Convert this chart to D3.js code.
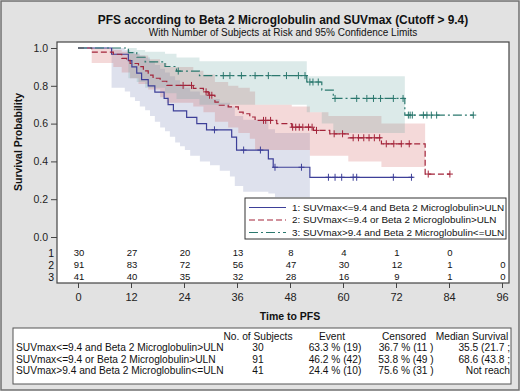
<!DOCTYPE html>
<html>
<head>
<meta charset="utf-8">
<script src="https://cdn.jsdelivr.net/npm/d3@7"></script>
<style>
  body { margin: 0; background: #fff; }
  text { font-family: "Liberation Sans", Arial, sans-serif; fill: #111; }
</style>
</head>
<body>
<div class="km-chart"></div>
<script>
// Group labels
var groupNames = [
  "1: SUVmax<=9.4 and Beta 2 Microglobulin>ULN",
  "2: SUVmax<=9.4 or Beta 2 Microglobulin>ULN",
  "3: SUVmax>9.4 and Beta 2 Microglobulin<=ULN"
];

// Group 1 (Kaplan-Meier steps, months / survival after the drop)
var g1Times = [7.6, 11.4, 12.2, 13.3, 14.4, 15.9, 17.4, 19.5, 20.4, 21.6, 24.6, 26.9, 29.1, 34.8, 35.9, 43.1, 44.2, 52.5];
var g1Surv  = [0.967, 0.933, 0.900, 0.867, 0.833, 0.800, 0.767, 0.733, 0.700, 0.667, 0.633, 0.600, 0.567, 0.528, 0.460, 0.413, 0.369, 0.316];
var g1Cens  = [30.9, 37.5, 41.3, 44.6, 50.6, 56.7, 58.2, 59.7, 62.3, 63.1, 71.4, 75.5];
var g1End   = 75.9;

// Group 2
var g2Times = [3.1, 8.0, 9.9, 11.0, 11.8, 13.7, 14.8, 15.9, 17.0, 18.6, 20.1, 26.1, 28.4, 29.5, 31.0, 31.8, 34.0, 36.3, 37.4, 38.9, 40.1, 45.0, 48.4, 53.3, 57.0, 61.2, 68.7, 78.6];
var g2Surv  = [0.978, 0.967, 0.945, 0.934, 0.918, 0.901, 0.879, 0.857, 0.840, 0.824, 0.802, 0.786, 0.768, 0.750, 0.714, 0.697, 0.688, 0.661, 0.652, 0.635, 0.617, 0.600, 0.581, 0.564, 0.546, 0.525, 0.493, 0.333];
var g2Cens  = [23.8, 25.7, 29.0, 29.8, 30.3, 42.0, 42.5, 43.6, 48.6, 49.3, 50.1, 50.9, 52.2, 53.0, 54.0, 58.0, 59.9, 62.3, 63.5, 64.7, 65.9, 67.1, 68.3, 69.8, 71.5, 73.2, 75.0, 79.3, 84.2];
var g2End   = 84.2;

// Group 3
var g3Times = [11.4, 13.3, 15.2, 19.7, 22.3, 27.5, 51.8, 55.2, 57.8, 74.0];
var g3Surv  = [0.976, 0.951, 0.927, 0.902, 0.878, 0.854, 0.820, 0.777, 0.733, 0.645];
var g3Cens  = [22.7, 32.9, 34.4, 37.0, 40.1, 43.1, 47.2, 49.9, 51.4, 52.5, 53.2, 54.4, 58.2, 63.1, 65.4, 66.9, 68.5, 71.4, 73.6, 74.8, 75.2, 75.7, 78.2, 79.0, 80.0, 81.2, 89.5];
var g3End   = 89.5;

// 95% confidence bands (step start, lower, upper) and end of band
var b1Times = [7.6, 10.6, 11.8, 12.9, 14.0, 15.2, 16.3, 17.4, 18.6, 19.7, 20.8, 22.0, 23.1, 24.2, 25.4, 27.6, 29.9, 32.1, 34.4, 35.5, 37.4, 43.1, 44.6];
var b1Low   = [0.79, 0.77, 0.74, 0.72, 0.69, 0.67, 0.64, 0.61, 0.58, 0.56, 0.53, 0.50, 0.48, 0.46, 0.43, 0.40, 0.38, 0.35, 0.32, 0.27, 0.24, 0.23, 0.21];
var b1High  = [1.00, 0.99, 0.98, 0.97, 0.96, 0.95, 0.93, 0.91, 0.89, 0.87, 0.85, 0.83, 0.81, 0.79, 0.77, 0.75, 0.73, 0.71, 0.69, 0.64, 0.62, 0.57, 0.55];
var b1End   = 52.5;

var b2Times = [3.1, 8.0, 9.9, 11.8, 13.7, 15.9, 18.6, 20.1, 26.1, 28.4, 31.0, 34.0, 36.3, 38.9, 40.1, 45.0, 48.4, 52.5, 56.7, 61.2, 68.7];
var b2Low   = [0.92, 0.90, 0.87, 0.84, 0.81, 0.78, 0.74, 0.71, 0.69, 0.66, 0.61, 0.58, 0.55, 0.52, 0.46, 0.46, 0.46, 0.43, 0.43, 0.40, 0.37];
var b2High  = [1.00, 0.99, 0.98, 0.97, 0.96, 0.94, 0.92, 0.90, 0.88, 0.86, 0.82, 0.80, 0.79, 0.77, 0.70, 0.70, 0.69, 0.66, 0.64, 0.64, 0.60];
var b2End   = 78.6;

var b3Times = [11.4, 13.3, 15.2, 19.7, 22.3, 27.5, 51.8, 55.2, 57.8];
var b3Low   = [0.84, 0.82, 0.79, 0.76, 0.73, 0.70, 0.66, 0.60, 0.55];
var b3High  = [1.00, 0.99, 0.98, 0.97, 0.95, 0.93, 0.85, 0.85, 0.85];
var b3End   = 74.0;

// Number at risk
var riskTimes = [0, 12, 24, 36, 48, 60, 72, 84, 96];
var risk1 = [30, 27, 20, 13, 8, 4, 1, 0, null];
var risk2 = [91, 83, 72, 56, 47, 30, 12, 1, 0];
var risk3 = [41, 40, 35, 32, 28, 16, 9, 1, 0];

// Summary table
var tableHeaders = ["No. of Subjects", "Event", "Censored", "Median Survival"];
var tableLabels = ["SUVmax<=9.4 and Beta 2 Microglobulin>ULN", "SUVmax<=9.4 or Beta 2 Microglobulin>ULN", "SUVmax>9.4 and Beta 2 Microglobulin<=ULN"];
var tableN = ["30", "91", "41"];
var tableEvent = ["63.3 % (19)", "46.2 % (42)", "24.4 % (10)"];
var tableCens = ["36.7 % (11 )", "53.8 % (49 )", "75.6 % (31 )"];
var tableMedian = ["35.5 (21.7 ;", "68.6 (43.8 ;", "Not reach"];

var width = 520, height = 391;
var lineColors = ["#3d3f98", "#a3243a", "#2b786e"];
var bandColors = ["#6f7eb3", "#d05b5b", "#66a5a0"];
var dashes = [null, "6,3", "9,3,2,3"];

var svg = d3.select(".km-chart").append("svg")
            .attr("width", width)
            .attr("height", height);

// Outer background
svg.append("rect")
   .attr("x", 1).attr("y", 1)
   .attr("width", width - 2).attr("height", height - 2)
   .style("fill", "#e2e2e2")
   .style("stroke", "#707070")
   .style("stroke-width", 1.5);

// Titles
svg.append("text")
   .attr("x", 283).attr("y", 24)
   .style("text-anchor", "middle")
   .style("font-weight", "bold")
   .style("font-size", "11.9px")
   .text("PFS according to Beta 2 Microglobulin and SUVmax (Cutoff > 9.4)");

svg.append("text")
   .attr("x", 283).attr("y", 36)
   .style("text-anchor", "middle")
   .style("font-size", "10px")
   .text("With Number of Subjects at Risk and 95% Confidence Limits");

// Plot frame
var frame = {left: 57, top: 42, right: 509, bottom: 283};
svg.append("rect")
   .attr("x", frame.left).attr("y", frame.top)
   .attr("width", frame.right - frame.left)
   .attr("height", frame.bottom - frame.top)
   .style("fill", "#fff");

// Scales
var xScale = d3.scaleLinear().domain([0, 96]).range([78, 502]);
var yScale = d3.scaleLinear().domain([0, 1]).range([237, 48]);

// Bands
var bandArea = d3.area()
                 .curve(d3.curveStepAfter)
                 .x(function(d) { return xScale(d.t); })
                 .y0(function(d) { return yScale(d.lo); })
                 .y1(function(d) { return yScale(d.hi); });

var bands = [[b1Times, b1Low, b1High, b1End], [b2Times, b2Low, b2High, b2End], [b3Times, b3Low, b3High, b3End]];
bands.forEach(function(b, i) {
  var pts = b[0].map(function(t, j) { return {t: t, lo: b[1][j], hi: b[2][j]}; });
  var last = pts[pts.length - 1];
  pts.push({t: b[3], lo: last.lo, hi: last.hi});
  svg.append("path")
     .attr("d", bandArea(pts))
     .style("fill", bandColors[i])
     .style("fill-opacity", 0.23)
     .style("stroke", "none");
});

// Survival curves
var kmLine = d3.line()
               .curve(d3.curveStepAfter)
               .x(function(d) { return xScale(d[0]); })
               .y(function(d) { return yScale(d[1]); });

var groups = [[g1Times, g1Surv, g1Cens, g1End], [g2Times, g2Surv, g2Cens, g2End], [g3Times, g3Surv, g3Cens, g3End]];

var survAt = function(g, t) {
  var v = 1;
  g[0].forEach(function(tt, j) { if (tt <= t) v = g[1][j]; });
  return v;
};

groups.forEach(function(g, i) {
  var pts = [[0, 1]].concat(g[0].map(function(t, j) { return [t, g[1][j]]; }));
  pts.push([g[3], g[1][g[1].length - 1]]);
  svg.append("path")
     .attr("d", kmLine(pts))
     .style("fill", "none")
     .style("stroke", lineColors[i])
     .style("stroke-width", 1.2)
     .style("stroke-dasharray", dashes[i]);

  // censored marks
  svg.selectAll(".cens" + i)
     .data(g[2])
     .enter()
     .append("path")
     .attr("class", "cens" + i)
     .attr("d", function(t) {
       var cx = xScale(t), cy = yScale(survAt(g, t));
       return "M" + (cx - 3) + "," + cy + "H" + (cx + 3) + "M" + cx + "," + (cy - 3.5) + "V" + (cy + 3.5);
     })
     .style("stroke", lineColors[i])
     .style("stroke-width", 1);
});

// Frame border on top
svg.append("rect")
   .attr("x", frame.left).attr("y", frame.top)
   .attr("width", frame.right - frame.left)
   .attr("height", frame.bottom - frame.top)
   .style("fill", "none")
   .style("stroke", "#444")
   .style("stroke-width", 1.2);

// Axes
var yAxis = d3.axisLeft(yScale)
              .tickValues([0, 0.2, 0.4, 0.6, 0.8, 1.0])
              .tickFormat(d3.format(".1f"))
              .tickSize(6)
              .tickPadding(3);

var yG = svg.append("g")
            .attr("transform", "translate(" + frame.left + ",0)")
            .call(yAxis);
yG.select(".domain").remove();
yG.selectAll("line").style("stroke", "#444");
yG.selectAll("text").style("font-size", "10.5px").style("font-family", "Liberation Sans, Arial, sans-serif").style("fill", "#222");

var xAxis = d3.axisBottom(xScale)
              .tickValues(riskTimes)
              .tickSize(5)
              .tickPadding(5);

var xG = svg.append("g")
            .attr("transform", "translate(0," + frame.bottom + ")")
            .call(xAxis);
xG.select(".domain").remove();
xG.selectAll("line").style("stroke", "#444");
xG.selectAll("text").style("font-size", "11px").style("font-family", "Liberation Sans, Arial, sans-serif").style("fill", "#222");

svg.append("text")
   .attr("x", 290).attr("y", 320)
   .style("text-anchor", "middle")
   .style("font-weight", "bold")
   .style("font-size", "10.5px")
   .text("Time to PFS");

svg.append("text")
   .attr("transform", "translate(22,142) rotate(-90)")
   .style("text-anchor", "middle")
   .style("font-weight", "bold")
   .style("font-size", "10.5px")
   .text("Survival Probability");

// Number at risk rows
var riskRows = [risk1, risk2, risk3];
var riskY = [253, 265, 277];
riskRows.forEach(function(row, i) {
  svg.append("text")
     .attr("x", 54).attr("y", riskY[i])
     .attr("dy", "0.35em")
     .style("text-anchor", "end")
     .style("font-size", "10.5px")
     .text(i + 1);
  svg.selectAll(".risk" + i)
     .data(riskTimes.filter(function(t, j) { return row[j] !== null; }))
     .enter()
     .append("text")
     .attr("class", "risk" + i)
     .attr("x", function(t) { return xScale(t) + 1; })
     .attr("y", riskY[i])
     .attr("dy", "0.35em")
     .style("text-anchor", "middle")
     .style("font-size", "9.5px")
     .text(function(t) { return row[riskTimes.indexOf(t)]; });
});

// Legend
var legend = svg.append("g");
legend.append("rect")
      .attr("x", 245).attr("y", 198)
      .attr("width", 261).attr("height", 41)
      .style("fill", "#fff")
      .style("stroke", "#333")
      .style("stroke-width", 1);
var legY = [207.5, 220, 232.5];
groupNames.forEach(function(name, i) {
  legend.append("line")
        .attr("x1", 249).attr("x2", 286)
        .attr("y1", legY[i]).attr("y2", legY[i])
        .style("stroke", lineColors[i])
        .style("stroke-width", 1.2)
        .style("stroke-dasharray", dashes[i]);
  legend.append("text")
        .attr("x", 292).attr("y", legY[i])
        .attr("dy", "0.35em")
        .style("font-size", "9.9px")
        .text(name);
});

// Summary table
var table = svg.append("g");
table.append("rect")
     .attr("x", 13).attr("y", 328)
     .attr("width", 498).attr("height", 56)
     .style("fill", "#fff")
     .style("stroke", "#555");

var headX = [258, 332, 404, 472];
tableHeaders.forEach(function(h, j) {
  table.append("text")
       .attr("x", headX[j]).attr("y", 336)
       .attr("dy", "0.35em")
       .style("text-anchor", "middle")
       .style("font-size", "10.2px")
       .text(h);
});
var rowY = [347.5, 359, 370.5];
tableLabels.forEach(function(lab, i) {
  table.append("text").attr("x", 16).attr("y", rowY[i]).attr("dy", "0.35em")
       .style("font-size", "10.2px").text(lab);
  table.append("text").attr("x", 258).attr("y", rowY[i]).attr("dy", "0.35em")
       .style("text-anchor", "middle").style("font-size", "10.2px").text(tableN[i]);
  table.append("text").attr("x", 335).attr("y", rowY[i]).attr("dy", "0.35em")
       .style("text-anchor", "middle").style("font-size", "10.2px").text(tableEvent[i]);
  table.append("text").attr("x", 406).attr("y", rowY[i]).attr("dy", "0.35em")
       .style("text-anchor", "middle").style("font-size", "10.2px").text(tableCens[i]);
  table.append("text").attr("x", 510).attr("y", rowY[i]).attr("dy", "0.35em")
       .style("text-anchor", "end").style("font-size", "10.2px").text(tableMedian[i]);
});
</script>
</body>
</html>
